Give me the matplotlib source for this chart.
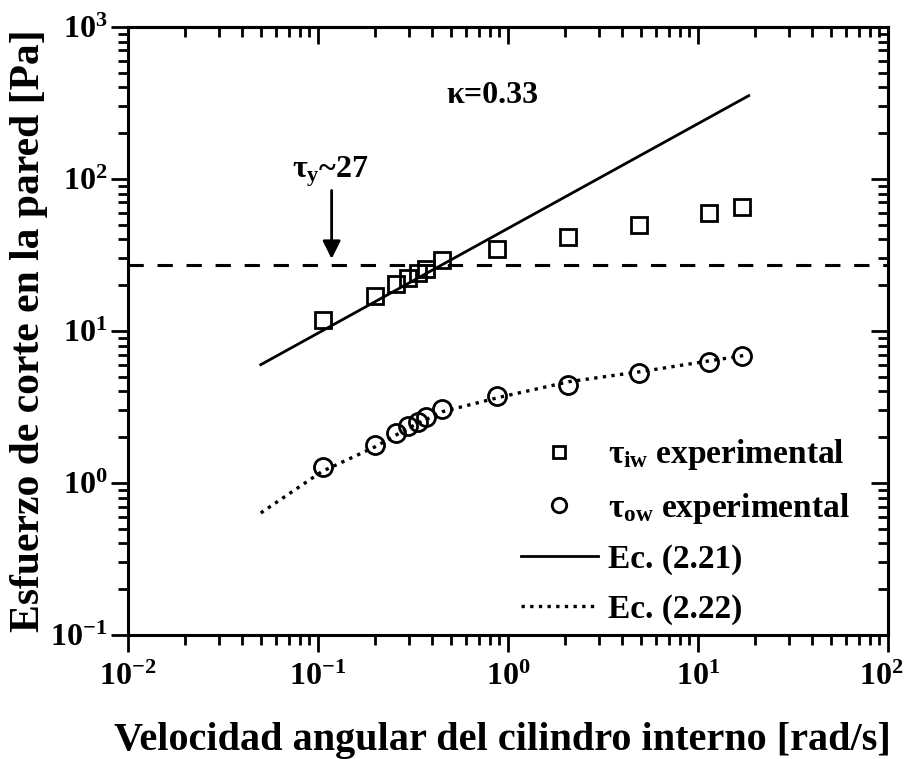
import numpy as np
import matplotlib
matplotlib.use("Agg")
import matplotlib.pyplot as plt
from matplotlib.transforms import ScaledTranslation

# data
omega = [0.106, 0.20, 0.257, 0.298, 0.336, 0.37, 0.45, 0.873, 2.06, 4.87, 11.4, 17.1]
tau_iw = [11.8, 17.0, 20.4, 22.3, 24.1, 25.6, 29.3, 34.6, 41.3, 49.8, 59.4, 65.1]
tau_ow = [1.27, 1.78, 2.12, 2.37, 2.53, 2.70, 3.05, 3.72, 4.41, 5.27, 6.28, 6.88]

# Ec. (2.21): straight line in log-log
ec21_x = [0.05, 18.5]
ec21_y = [6.0, 353.0]

# Ec. (2.22): curve through the outer wall data
ec22_x = [0.05, 0.105, 0.2, 0.3, 0.45, 0.9, 2.1, 5.0, 11.7, 17.5]
ec22_y = [0.635, 1.19, 1.73, 2.3, 2.94, 3.66, 4.64, 5.4, 6.38, 6.9]

tau_y = 27.0

plt.rcParams['font.family'] = ['Liberation Serif', 'DejaVu Serif']
plt.rcParams['font.weight'] = 'bold'
plt.rcParams['axes.labelweight'] = 'bold'
plt.rcParams['axes.unicode_minus'] = False
plt.rcParams['mathtext.fontset'] = 'custom'
plt.rcParams['mathtext.rm'] = 'Liberation Serif:bold'
plt.rcParams['mathtext.it'] = 'Liberation Serif:bold'
plt.rcParams['mathtext.bf'] = 'Liberation Serif:bold'

fig = plt.figure(figsize=(9.07, 7.59), dpi=100)
ax = fig.add_axes([0.1411, 0.1634, 0.8379, 0.8011])
ax.set_xscale('log')
ax.set_yscale('log')
ax.set_xlim(1e-2, 1e2)
ax.set_ylim(1e-1, 1e3)

ax.axhline(tau_y, color='k', lw=2.2, linestyle=(0, (5, 4.5)))

ax.plot(ec21_x, ec21_y, color='k', lw=2.0, label='Ec. (2.21)')
ax.plot(ec22_x, ec22_y, color='k', lw=2.4, linestyle=(0, (1, 1.6)), label='Ec. (2.22)')

ax.plot(omega, tau_iw, linestyle='none', marker='s', ms=11.5, mew=2.0,
        mfc='none', mec='k', label=r'$\tau_{\mathrm{iw}}$ experimental')
ax.plot(omega, tau_ow, linestyle='none', marker='o', ms=13, mew=2.0,
        mfc='none', mec='k', label=r'$\tau_{\mathrm{ow}}$ experimental')

ax.annotate('', xy=(0.118, 29.8), xytext=(0.118, 84),
            arrowprops=dict(arrowstyle='-|>', lw=2, color='k',
                            mutation_scale=27, shrinkA=0, shrinkB=0))
ax.text(0.073, 103, r'$\tau_{\mathrm{y}}$~27', fontsize=23, ha='left', va='baseline')
ax.text(0.83, 352, 'κ=0.33', fontsize=23, ha='center', va='center')

handles, labels = ax.get_legend_handles_labels()
order = [2, 3, 0, 1]
ax.legend([handles[i] for i in order], [labels[i] for i in order],
          loc='upper left', bbox_to_anchor=(0.517, 0.325), frameon=False,
          fontsize=24, numpoints=1, markerscale=0.8, handlelength=2.3,
          handletextpad=0.3, labelspacing=0.55, borderpad=0, borderaxespad=0)

for s in ax.spines.values():
    s.set_linewidth(2.2)

ax.tick_params(axis='both', which='major', direction='out', length=12, width=2,
               labelsize=23, pad=3)
ax.tick_params(axis='both', which='minor', direction='out', length=7, width=2)
ax.tick_params(axis='x', which='major', pad=8)

# mirrored ticks pointing inward on top and right
top = ax.secondary_xaxis('top')
top.tick_params(which='major', direction='in', length=12, width=2, labeltop=False)
top.tick_params(which='minor', direction='in', length=7, width=2)
top.spines['top'].set_linewidth(2.2)
right = ax.secondary_yaxis('right')
right.tick_params(which='major', direction='in', length=12, width=2, labelright=False)
right.tick_params(which='minor', direction='in', length=7, width=2)
right.spines['right'].set_linewidth(2.2)

ax.set_xlabel('Velocidad angular del cilindro interno [rad/s]', fontsize=29)
ax.set_ylabel('Esfuerzo de corte en la pared [Pa]', fontsize=30)
ax.xaxis.set_label_coords(0.493, -0.143)
ax.yaxis.set_label_coords(-0.105, 0.5)

# keep the last x tick label inside the figure
fig.canvas.draw()
for t in ax.xaxis.get_major_ticks():
    if abs(t.get_loc() - 100) < 1e-6:
        t.label1.set_horizontalalignment('right')
        t.label1.set_transform(t.label1.get_transform()
                               + ScaledTranslation(0.16, 0, fig.dpi_scale_trans))

fig.savefig('out.png', dpi=100)
